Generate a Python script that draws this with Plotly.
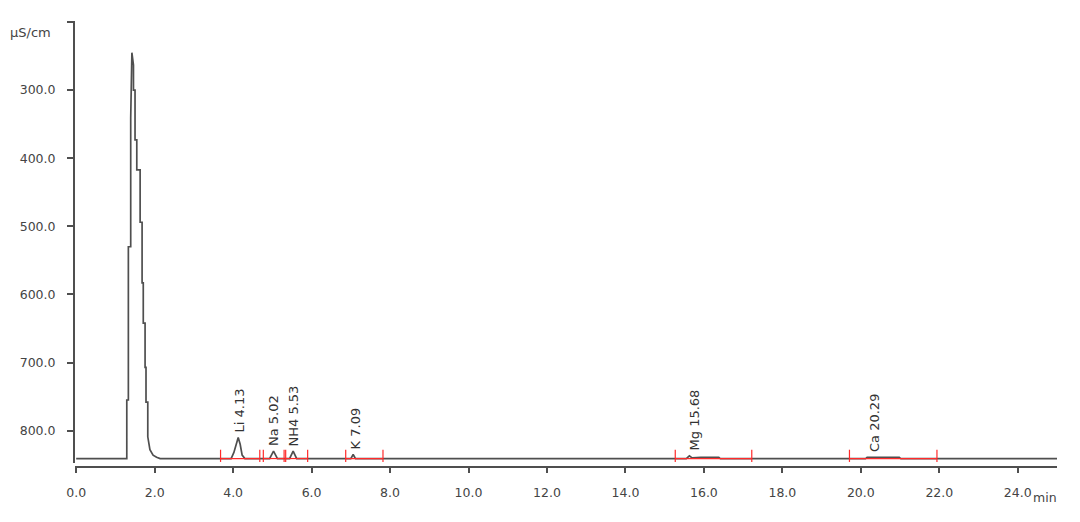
import plotly.graph_objects as go

# ---------------- data ----------------
# chromatogram trace: retention time (min) and signal (µS/cm, axis reversed)
time_min = [0.0, 1.29, 1.29, 1.33, 1.33, 1.39, 1.39, 1.42, 1.46, 1.46, 1.50, 1.50,
            1.545, 1.545, 1.63, 1.63, 1.68, 1.68, 1.71, 1.71, 1.756, 1.756, 1.78, 1.78,
            1.825, 1.825, 1.88, 1.96, 2.05, 2.14,
            3.95, 4.02, 4.13, 4.18, 4.23, 4.30,
            4.93, 5.03, 5.13,
            5.44, 5.53, 5.62,
            7.00, 7.06, 7.12,
            15.55, 15.63, 15.70, 15.92, 16.38, 16.42,
            20.12, 20.16, 20.98, 21.02,
            25.0]
signal = [841, 841, 755, 755, 530, 530, 341, 245, 263, 300, 300, 373,
          373, 417, 417, 494, 494, 583, 583, 642, 642, 707, 707, 758,
          758, 809, 828, 836, 839, 841,
          841, 832, 810, 820, 836, 841,
          841, 830, 841,
          841, 830, 841,
          841, 835, 841,
          841, 837, 840, 839.3, 839.3, 841,
          841, 839.3, 839.3, 841,
          841]

baseline = 841
peak_names = ["Li 4.13", "Na 5.02", "NH4 5.53", "K 7.09", "Mg 15.68", "Ca 20.29"]
peak_label_x = [4.15, 5.03, 5.55, 7.13, 15.75, 20.33]
peak_tops = [810, 830, 830, 835, 837, 839]
peak_start = [3.68, 4.77, 5.34, 6.87, 15.27, 19.71]
peak_end = [4.68, 5.30, 5.90, 7.82, 17.22, 21.94]

x_ticks = [0, 2, 4, 6, 8, 10, 12, 14, 16, 18, 20, 22, 24]
x_tick_labels = ["%.1f" % v for v in x_ticks]
y_ticks = [200, 300, 400, 500, 600, 700, 800]
y_tick_labels = [""] + ["%.1f" % v for v in y_ticks[1:]]

# ---------------- figure ----------------
FONT = "DejaVu Sans"
TXT = "#444444"
LINE = "#4f4f4f"

fig = go.Figure()

fig.add_trace(go.Scatter(x=time_min, y=signal, mode="lines",
                         line=dict(color=LINE, width=1.7), hoverinfo="skip",
                         showlegend=False))

# integration baselines and boundary ticks
rx, ry = [], []
for s, e in zip(peak_start, peak_end):
    rx += [s, e, None, s, s, None, e, e, None]
    ry += [baseline, baseline, None, baseline - 13, baseline + 5, None,
           baseline - 13, baseline + 5, None]
fig.add_trace(go.Scatter(x=rx, y=ry, mode="lines",
                         line=dict(color="#ff2a2a", width=1.2), hoverinfo="skip",
                         showlegend=False))

for name, px, top in zip(peak_names, peak_label_x, peak_tops):
    fig.add_annotation(x=px, y=top, text=name, textangle=-90, showarrow=False,
                       xanchor="center", yanchor="bottom", yshift=3,
                       font=dict(family=FONT, size=13, color="#333333"))

fig.add_annotation(xref="paper", yref="paper", x=-0.068, y=1.0, yshift=-11,
                   text="µS/cm", showarrow=False, xanchor="left", yanchor="middle",
                   font=dict(family=FONT, size=13, color=TXT))
fig.add_annotation(xref="paper", yref="paper", x=1.0, y=0, yshift=-30, xshift=2,
                   text="min", showarrow=False, xanchor="right", yanchor="middle",
                   font=dict(family=FONT, size=12.5, color=TXT))

fig.update_layout(
    width=1080, height=522,
    margin=dict(l=67, r=30.5, t=13, b=63),
    paper_bgcolor="white", plot_bgcolor="white",
    xaxis=dict(range=[-0.03, 25.0], tickvals=x_ticks, ticktext=x_tick_labels,
               showgrid=False, zeroline=False, showline=True, linecolor=LINE, linewidth=2,
               ticks="outside", ticklen=5, tickwidth=1.5, tickcolor=LINE,
               ticklabelstandoff=9,
               tickfont=dict(family=FONT, size=12.5, color=TXT),
               anchor="free", position=0),
    yaxis=dict(range=[847.5, 198.5], domain=[0.009, 1], tickvals=y_ticks, ticktext=y_tick_labels,
               showgrid=False, zeroline=False, showline=True, linecolor=LINE, linewidth=2,
               ticks="outside", ticklen=6, tickwidth=1.5, tickcolor=LINE,
               ticklabelstandoff=9,
               tickfont=dict(family=FONT, size=12.5, color=TXT)),
)

fig.write_html("out.html")
